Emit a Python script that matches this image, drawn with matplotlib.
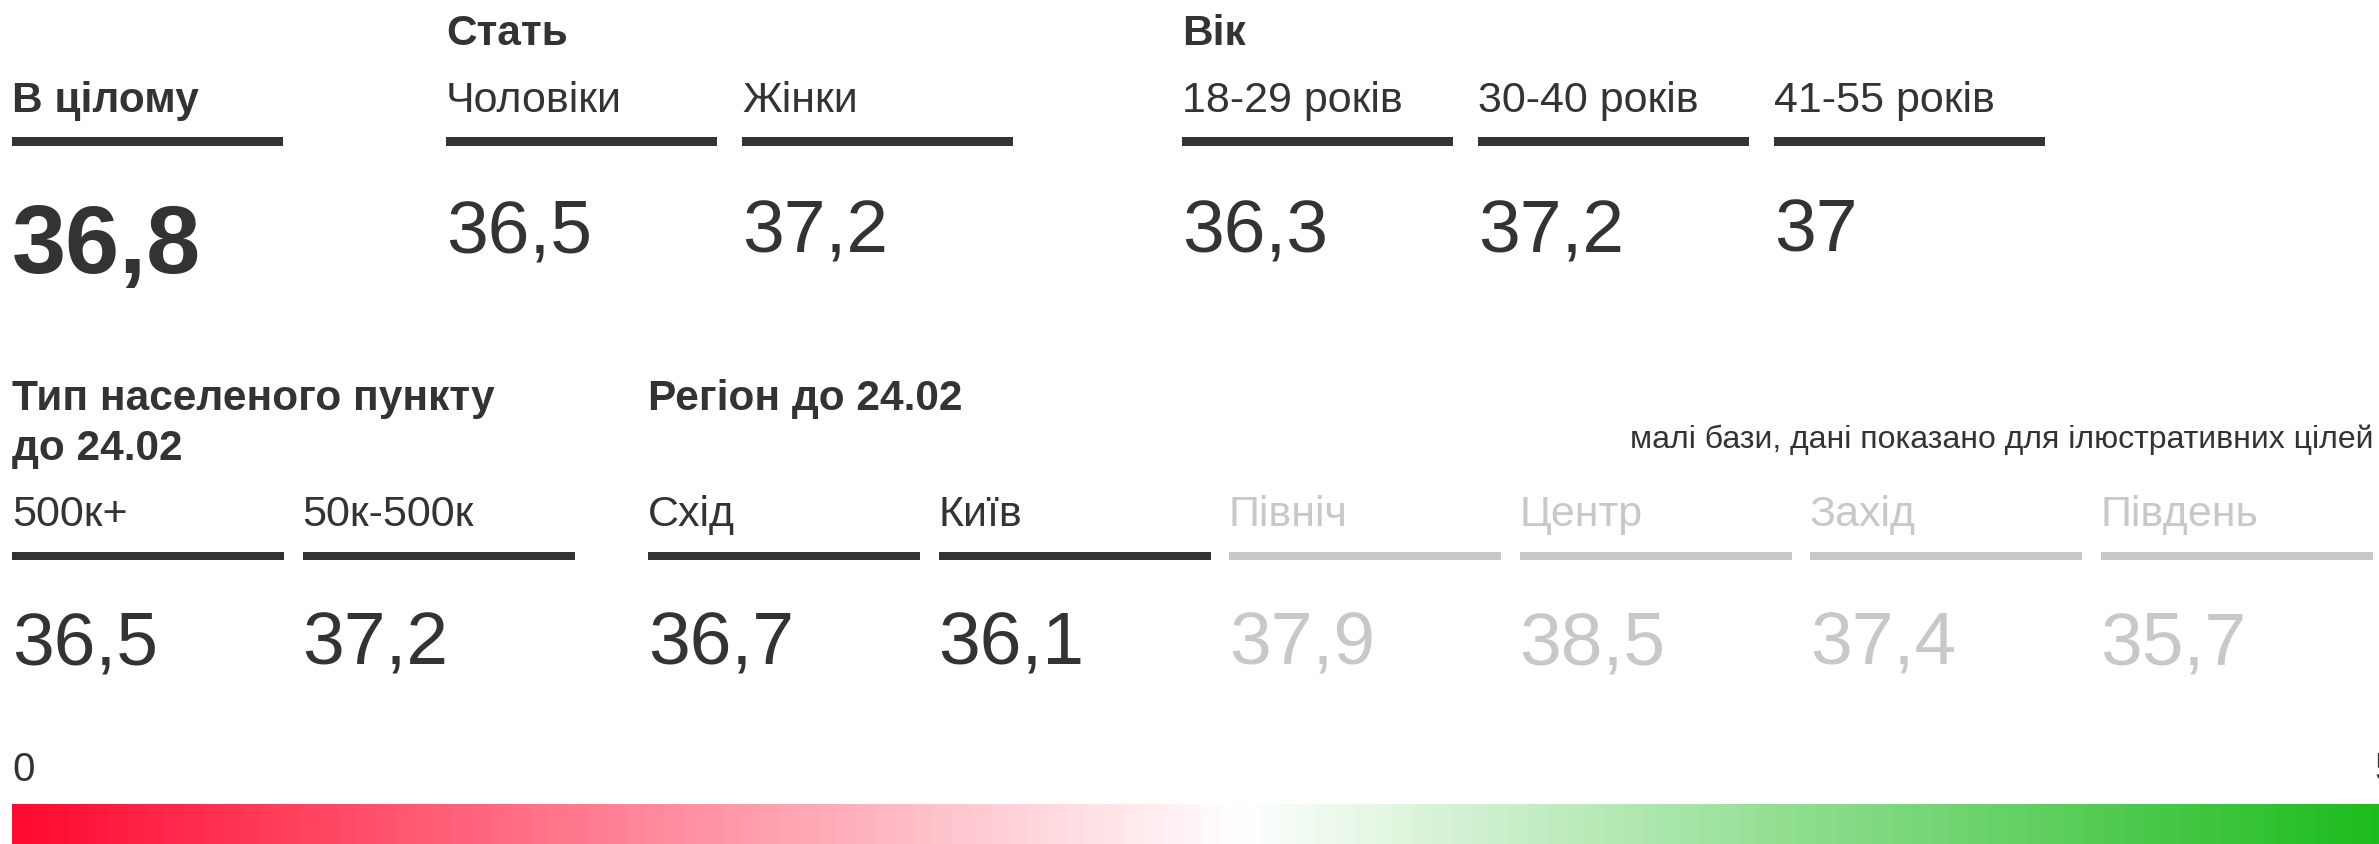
import matplotlib
matplotlib.use("Agg")
import matplotlib.pyplot as plt
import numpy as np
from matplotlib.colors import LinearSegmentedColormap

# ---------------- data ----------------
overall_label = "В цілому"
overall_value = 36.8

gender_title = "Стать"
gender_labels = ["Чоловіки", "Жінки"]
gender_values = [36.5, 37.2]

age_title = "Вік"
age_labels = ["18-29 років", "30-40 років", "41-55 років"]
age_values = [36.3, 37.2, 37.0]

settlement_title = ["Тип населеного пункту", "до 24.02"]
settlement_labels = ["500к+", "50к-500к"]
settlement_values = [36.5, 37.2]

region_title = ["Регіон до 24.02"]
region_labels = ["Схід", "Київ", "Північ", "Центр", "Захід", "Південь"]
region_values = [36.7, 36.1, 37.9, 38.5, 37.4, 35.7]
region_small_base = [False, False, True, True, True, True]

note_text = "малі бази, дані показано для ілюстративних цілей"
scale_labels = ["0", "5"]

# ---------------- style ----------------
W, H = 2379, 844
DARK = "#333333"
GREY = "#c8c8c8"
FONT = "Liberation Sans"
LABEL_SIZE = 31
TITLE_SIZE = 30.5

fig = plt.figure(figsize=(W / 100, H / 100), dpi=100)
ax = fig.add_axes([0, 0, 1, 1])
ax.set_xlim(0, W)
ax.set_ylim(H, 0)
ax.axis("off")


def fmt(v):
    return f"{v:g}".replace(".", ",")


def draw_title(lines, x, y0, step=50):
    for i, ln in enumerate(lines):
        ax.text(x, y0 + i * step, ln, fontsize=TITLE_SIZE, fontweight="bold",
                color=DARK, family=FONT, va="baseline", ha="left")


def draw_cell(x, label, value, label_y, bar_y, value_y, bar_w, color,
              value_size=54, value_weight="normal", bar_h=9,
              label_weight="normal", label_size=LABEL_SIZE):
    ax.text(x, label_y, label, fontsize=label_size, fontweight=label_weight,
            color=color, family=FONT, va="baseline", ha="left")
    ax.barh([bar_y], [bar_w], left=[x], height=bar_h, color=color, linewidth=0)
    ax.text(x, value_y, fmt(value), fontsize=value_size, fontweight=value_weight,
            color=color, family=FONT, va="baseline", ha="left")


# ---------------- top row ----------------
TOP_HEAD, TOP_LABEL, TOP_BAR, TOP_VALUE = 45, 112, 141.5, 252
BAR_W = 271
PITCH_TOP = 296

draw_cell(12, overall_label, overall_value, TOP_LABEL, TOP_BAR, 273, BAR_W,
          DARK, value_size=70, value_weight="bold",
          label_weight="bold", label_size=TITLE_SIZE)

gx = 446
draw_title([gender_title], gx, TOP_HEAD)
for i, (lab, val) in enumerate(zip(gender_labels, gender_values)):
    draw_cell(gx + i * PITCH_TOP, lab, val, TOP_LABEL, TOP_BAR, TOP_VALUE, BAR_W, DARK)

axx = 1182
draw_title([age_title], axx, TOP_HEAD)
for i, (lab, val) in enumerate(zip(age_labels, age_values)):
    draw_cell(axx + i * PITCH_TOP, lab, val, TOP_LABEL, TOP_BAR, TOP_VALUE, BAR_W, DARK)

# ---------------- bottom row ----------------
BOT_HEAD, BOT_LABEL, BOT_BAR, BOT_VALUE = 410, 526, 556, 665
PITCH_BOT = 290.5

sx = 12
draw_title(settlement_title, sx, BOT_HEAD)
for i, (lab, val) in enumerate(zip(settlement_labels, settlement_values)):
    draw_cell(sx + i * PITCH_BOT, lab, val, BOT_LABEL, BOT_BAR, BOT_VALUE, 272, DARK, bar_h=8)

rx = 648
draw_title(region_title, rx, BOT_HEAD)
for i, (lab, val, small) in enumerate(zip(region_labels, region_values, region_small_base)):
    draw_cell(rx + i * PITCH_BOT, lab, val, BOT_LABEL, BOT_BAR, BOT_VALUE, 272,
              GREY if small else DARK, bar_h=8)

ax.text(2373, 448, note_text, fontsize=23, color=DARK, family=FONT,
        va="baseline", ha="right")

# ---------------- colour scale ----------------
ax.text(12, 781, scale_labels[0], fontsize=29, color=DARK, family=FONT,
        va="baseline", ha="left")
ax.text(2374, 781, scale_labels[1], fontsize=29, color=DARK, family=FONT,
        va="baseline", ha="left")

cmap = LinearSegmentedColormap.from_list(
    "rw_g", ["#ff0a30", "#ffffff", "#0cb70c"], N=128)
grad = np.linspace(0, 1, 1024)[None, :]
ax.imshow(grad, cmap=cmap, aspect="auto", interpolation="nearest",
          extent=[12, 2468, 844, 804], zorder=0)
ax.set_xlim(0, W)
ax.set_ylim(H, 0)

fig.savefig("out.png", dpi=100, facecolor="white")
